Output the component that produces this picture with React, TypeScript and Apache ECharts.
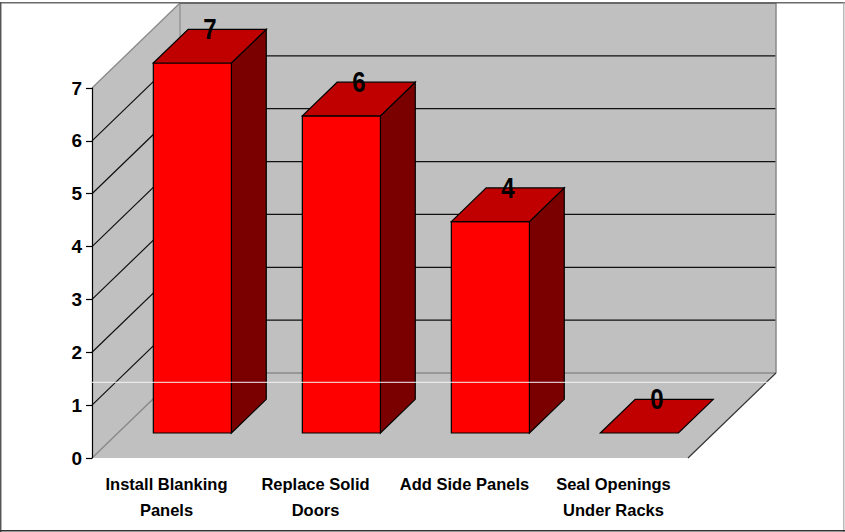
import React, { useEffect, useRef } from "react";
import * as echarts from "echarts";

// ---- data ----
const categories = [
  "Install Blanking\nPanels",
  "Replace Solid\nDoors",
  "Add Side Panels",
  "Seal Openings\nUnder Racks",
];
const values = [7, 6, 4, 0];
const yMin = 0;
const yMax = 7;
const yStep = 1;

// ---- styling / 3D projection constants ----
const DX = 88; // depth offset in px (x)
const DY = 85; // depth offset in px (y)
const BAR_FRONT = 0.294;
const BAR_BACK = 0.69;
const BAR_HALF = 0.262;
const WALL = "#C0C0C0";
const SANS = "'Liberation Sans', Arial, sans-serif";

export default function App() {
  const ref = useRef<HTMLDivElement>(null);

  useEffect(() => {
    const chart = echarts.init(ref.current!, null, { renderer: "svg" });

    const renderWalls = (params: any, api: any) => {
      const cs = params.coordSys;
      const x0 = cs.x;
      const x1 = cs.x + cs.width;
      const yb = api.coord([0, yMin])[1];
      const yt = api.coord([0, yMax])[1];
      const ch: any[] = [];
      ch.push({
        type: "polygon",
        shape: { points: [[x0, yt], [x0 + DX, yt - DY], [x0 + DX, yb - DY], [x0, yb]] },
        style: { fill: WALL },
      });
      ch.push({
        type: "rect",
        shape: { x: x0 + DX, y: yt - DY, width: x1 - x0, height: yb - yt },
        style: { fill: WALL },
      });
      ch.push({
        type: "polygon",
        shape: { points: [[x0, yb], [x1, yb], [x1 + DX, yb - DY], [x0 + DX, yb - DY]] },
        style: { fill: WALL },
      });
      for (let v = yMin + yStep; v < yMax; v += yStep) {
        const y = api.coord([0, v])[1];
        ch.push({
          type: "polyline",
          shape: { points: [[x0, y], [x0 + DX, y - DY], [x1 + DX, y - DY]] },
          style: { stroke: "#111", lineWidth: 1.2, fill: "none" },
        });
      }
      const edge = (pts: number[][], color: string, w = 1.3) =>
        ch.push({ type: "polyline", shape: { points: pts }, style: { stroke: color, lineWidth: w, fill: "none" } });
      edge([[x0, yb], [x0 + DX, yb - DY], [x1 + DX, yb - DY]], "#8a8a8a", 1.5);
      edge([[x0 + DX, yt - DY], [x0 + DX, yb - DY]], "#8a8a8a", 1.2);
      edge([[x1 + DX, yt - DY], [x1 + DX, yb - DY]], "#8a8a8a", 1.5);
      edge([[x0, yt], [x0 + DX, yt - DY]], "#8a8a8a", 1.3);
      edge([[x0 + DX, yt - DY], [x1 + DX, yt - DY]], "#666", 2);
      edge([[x1, yb], [x1 + DX, yb - DY]], "#333", 1.2);
      return { type: "group", children: ch };
    };

    const renderBar = (params: any, api: any) => {
      const idx = api.value(0);
      const v = api.value(1);
      const p0 = api.coord([idx, 0]);
      const cx = p0[0];
      const y0 = p0[1];
      const yv = api.coord([idx, v])[1];
      const band = api.size([1, 0])[0];
      const h = band * BAR_HALF;
      const fdx = DX * BAR_FRONT, fdy = DY * BAR_FRONT;
      const bdx = DX * BAR_BACK, bdy = DY * BAR_BACK;
      const FLb = [cx - h + fdx, y0 - fdy];
      const FRb = [cx + h + fdx, y0 - fdy];
      const FRt = [cx + h + fdx, yv - fdy];
      const FLt = [cx - h + fdx, yv - fdy];
      const BRb = [cx + h + bdx, y0 - bdy];
      const BRt = [cx + h + bdx, yv - bdy];
      const BLt = [cx - h + bdx, yv - bdy];
      const st = { stroke: "#000", lineWidth: 1.2 };
      const children: any[] = [];
      if (v > 0) {
        children.push({ type: "polygon", shape: { points: [FRb, BRb, BRt, FRt] }, style: { ...st, fill: "#7A0000" } });
        children.push({ type: "polygon", shape: { points: [FLb, FRb, FRt, FLt] }, style: { ...st, fill: "#FF0000" } });
      }
      children.push({ type: "polygon", shape: { points: [FLt, FRt, BRt, BLt] }, style: { ...st, fill: "#C00000" } });
      children.push({
        type: "text",
        x: (FLt[0] + BRt[0]) / 2,
        y: (FLt[1] + BRt[1]) / 2 - 17.5,
        scaleX: 0.8,
        style: {
          text: String(v),
          fill: "#000",
          fontSize: 30,
          fontWeight: "bold",
          fontFamily: SANS,
          align: "center",
          verticalAlign: "middle",
        },
      });
      return { type: "group", children };
    };

    chart.setOption({
      animation: false,
      backgroundColor: "#fff",
      grid: { left: 92, right: 157, top: 88, bottom: 74, containLabel: false },
      xAxis: {
        type: "category",
        data: categories,
        axisLine: { show: false },
        axisTick: { show: false },
        splitLine: { show: false },
        axisLabel: {
          interval: 0,
          margin: 13,
          lineHeight: 26,
          fontSize: 16.5,
          fontWeight: "bold",
          fontFamily: SANS,
          color: "#000",
        },
      },
      yAxis: {
        type: "value",
        min: yMin,
        max: yMax,
        interval: yStep,
        z: 10,
        axisLine: { show: true, lineStyle: { color: "#000", width: 1.2 } },
        axisTick: { show: true, length: 6, lineStyle: { color: "#000", width: 1.2 } },
        splitLine: { show: false },
        axisLabel: {
          margin: 10,
          fontSize: 19,
          fontWeight: "bold",
          fontFamily: SANS,
          color: "#000",
        },
      },
      series: [
        {
          type: "custom",
          z: 1,
          silent: true,
          renderItem: renderWalls,
          data: [[0, 0]],
          encode: { x: 0, y: 1 },
        },
        {
          type: "custom",
          z: 3,
          silent: true,
          renderItem: renderBar,
          data: values.map((v, i) => [i, v]),
          encode: { x: 0, y: 1 },
        },
      ],
      graphic: [
        { type: "line", z: 100, shape: { x1: 0, y1: 2.8, x2: 845, y2: 2.8 }, style: { stroke: "#6a6a6a", lineWidth: 1.5 } },
        { type: "line", z: 100, shape: { x1: 0.7, y1: 2, x2: 0.7, y2: 532 }, style: { stroke: "#555", lineWidth: 1.5 } },
        { type: "line", z: 100, shape: { x1: 843.8, y1: 2, x2: 843.8, y2: 532 }, style: { stroke: "#a8a8a8", lineWidth: 1.2 } },
        { type: "line", z: 100, shape: { x1: 0, y1: 530.8, x2: 845, y2: 530.8 }, style: { stroke: "#333", lineWidth: 1.5 } },
        { type: "line", z: 100, shape: { x1: 92, y1: 382.3, x2: 777, y2: 382.3 }, style: { stroke: "#f4f4f4", lineWidth: 1 } },
      ],
    });

    return () => chart.dispose();
  }, []);

  return (
    <div
      ref={ref}
      style={{ position: "fixed", left: 0, top: 0, width: 845, height: 532 }}
    />
  );
}
